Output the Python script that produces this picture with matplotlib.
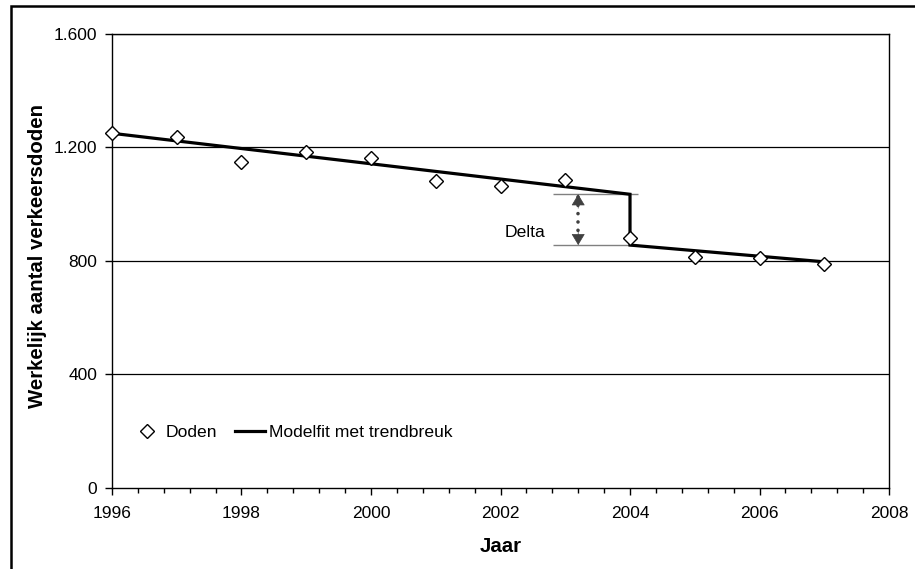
import matplotlib.pyplot as plt
from matplotlib.patches import Rectangle
from matplotlib.ticker import MultipleLocator, FuncFormatter

plt.rcParams['font.family'] = ['Liberation Sans', 'DejaVu Sans']

# Verkeersdoden per jaar
jaren = [1996, 1997, 1998, 1999, 2000, 2001, 2002, 2003, 2004, 2005, 2006, 2007]
doden = [1250, 1236, 1148, 1185, 1164, 1083, 1064, 1087, 880, 815, 810, 789]

# Modelfit met trendbreuk in 2004
fit_jaren = [1996, 2004, 2004, 2007]
fit_waarden = [1250, 1035, 856, 797]

fig = plt.figure(figsize=(9.15, 5.69), dpi=100)
ax = fig.add_axes([0.1224, 0.1424, 0.8492, 0.7979])

for y in [400, 800, 1200, 1600]:
    ax.axhline(y, color='black', lw=0.9, zorder=1)

ax.plot(jaren, doden, linestyle='none', marker='D', markersize=7.5,
        markerfacecolor='white', markeredgecolor='black', markeredgewidth=1.0,
        label='Doden', zorder=4, clip_on=False)
ax.plot(fit_jaren, fit_waarden, color='black', lw=2.3, solid_joinstyle='miter',
        label='Modelfit met trendbreuk', zorder=3)

# Delta: sprong in het model bij de trendbreuk
x_breuk = fit_jaren[1]
x_pijl = 2003.2
ax.hlines([fit_waarden[1], fit_waarden[2]], 2002.81, x_breuk + 0.12,
          color='#808080', lw=1.0, zorder=2)
ax.plot([x_pijl, x_pijl], [fit_waarden[1], fit_waarden[2]], color='#404040', lw=2.6,
        linestyle=(1.5, (0.01, 2.3)), dash_capstyle='round', zorder=2)
for y_punt, richting in [(fit_waarden[1], 1), (fit_waarden[2], -1)]:
    ax.annotate('', xy=(x_pijl, y_punt), xytext=(0, -10 * richting), textcoords='offset points',
                arrowprops=dict(arrowstyle='-|>,head_length=0.6,head_width=0.36',
                                lw=0.5, color='#404040', mutation_scale=12,
                                shrinkA=0, shrinkB=0), zorder=3)
ax.text(2002.38, 902, 'Delta', fontsize=12.6, ha='center', va='center')

ax.set_xlim(1996, 2008)
ax.set_ylim(0, 1600)
ax.xaxis.set_major_locator(MultipleLocator(2))
ax.xaxis.set_minor_locator(MultipleLocator(0.4))
ax.yaxis.set_major_locator(MultipleLocator(400))
ax.yaxis.set_major_formatter(FuncFormatter(lambda v, p: f'{int(v):,}'.replace(',', '.')))
ax.tick_params(axis='both', which='major', direction='out', length=5, width=1,
               labelsize=12.5)
ax.tick_params(axis='y', which='major', pad=5.5)
ax.tick_params(axis='x', which='major', pad=8)
ax.tick_params(axis='x', which='minor', direction='out', length=3.5, width=1)

for s in ax.spines.values():
    s.set_linewidth(1.0)

ax.set_xlabel('Jaar', fontsize=14.7, fontweight='bold')
ax.set_ylabel('Werkelijk aantal verkeersdoden', fontsize=14.7, fontweight='bold')
ax.xaxis.set_label_coords(0.5, -0.128)
ax.xaxis.label.set_va('center')
ax.yaxis.set_label_coords(-0.0965, 0.512)
ax.yaxis.label.set_va('center')

ax.legend(loc='center left', bbox_to_anchor=(0.025, 0.123), frameon=False, ncol=2,
          fontsize=12.6, handlelength=1.75, handletextpad=0.2, columnspacing=1.0,
          borderaxespad=0, borderpad=0)

# Kader om de figuur
fig.patches.append(Rectangle((11 / 915, -0.1), 1.2, 1.1 - 6 / 569, transform=fig.transFigure,
                             fill=False, edgecolor='black', lw=1.8, clip_on=False))

fig.savefig('out.png', dpi=100)
